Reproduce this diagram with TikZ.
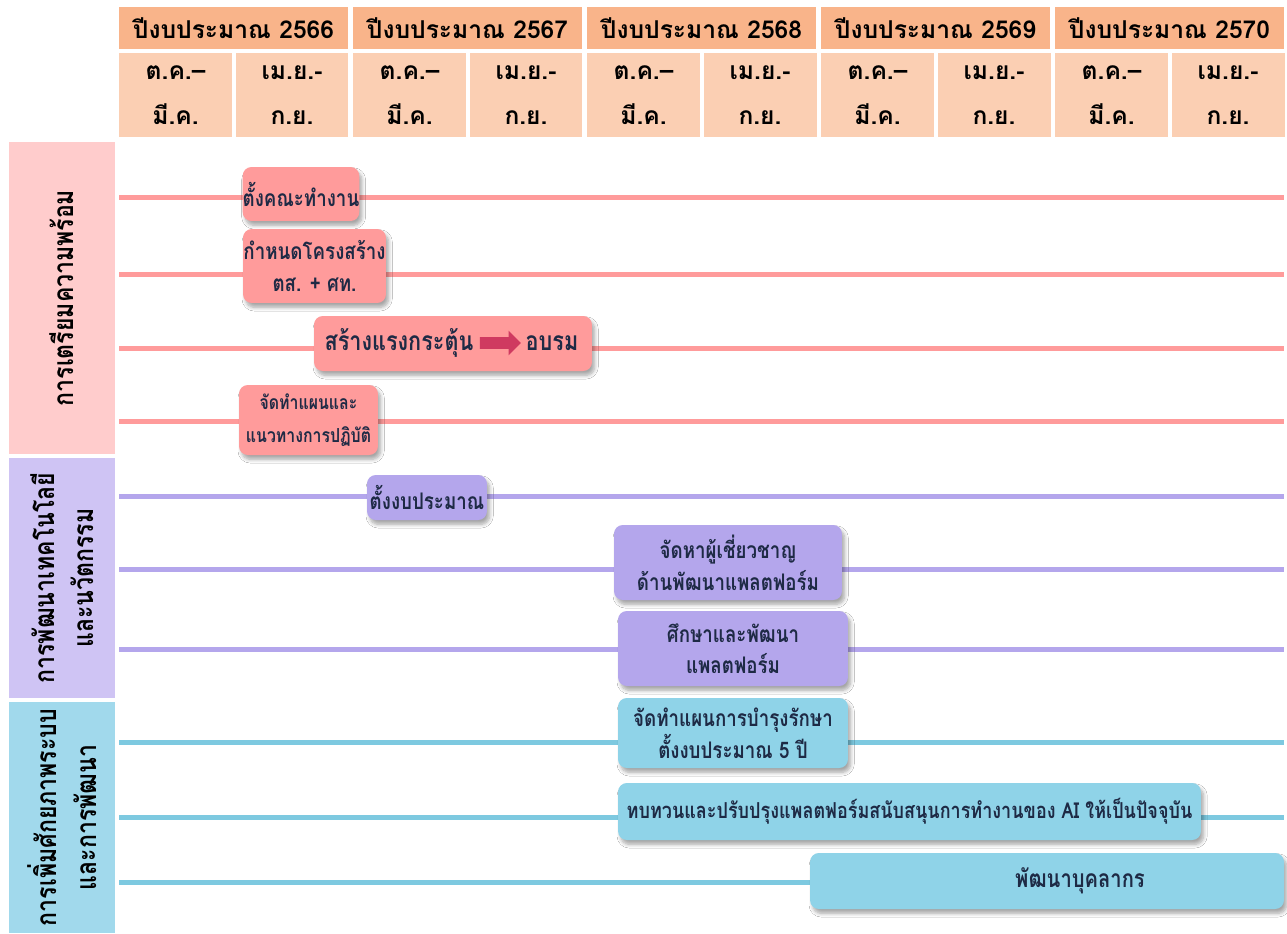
\documentclass[tikz,border=0pt]{standalone}
\usepackage{fontspec}
\setmainfont[Script=Thai]{Loma}
\newfontfamily\narrowthai[Script=Thai, FakeStretch=0.82]{Loma}
\usepackage{xcolor}
\usepackage{tikz}
\usetikzlibrary{shadows,shadows.blur,shapes.arrows}

\definecolor{yearhead}{HTML}{F9B48A}
\definecolor{halfhead}{HTML}{FBCFB3}
\definecolor{prepband}{HTML}{FFCCCC}
\definecolor{prepbox}{HTML}{FF9B9B}
\definecolor{techband}{HTML}{CFC4F4}
\definecolor{techbox}{HTML}{B4A6EC}
\definecolor{devband}{HTML}{A1D9EC}
\definecolor{devbox}{HTML}{8FD3E8}
\definecolor{devline}{HTML}{7DC9E0}
\definecolor{boxtext}{HTML}{1E2A45}
\definecolor{arrowred}{HTML}{CF3A60}

\begin{document}
\begin{tikzpicture}[x=0.02cm,y=-0.02cm,
    yearcell/.style={fill=yearhead, minimum width=4.58cm, minimum height=0.84cm,
      inner sep=0pt, font=\bfseries\fontsize{14}{16}\selectfont},
    halfcell/.style={fill=halfhead, minimum width=2.26cm, minimum height=1.68cm,
      inner sep=0pt, align=center, font=\bfseries\fontsize{14}{25.5}\selectfont},
    band/.style={fill=#1, rotate=90, minimum height=2.12cm, inner sep=0pt,
      align=center, font=\narrowthai\bfseries\fontsize{16}{22.5}\selectfont},
    rail/.style={line width=0.1cm, draw=#1},
    task/.style={fill=#1, rounded corners=5pt, inner xsep=0pt, inner ysep=2pt,
      align=center, text=boxtext, font=\narrowthai\bfseries\fontsize{13}{18}\selectfont,
      blur shadow={shadow xshift=1.5pt, shadow yshift=-2.5pt, shadow blur steps=6,
        shadow opacity=35}}]
  \fill[white] (0,0) rectangle (1287,933);
  \useasboundingbox (0,0) rectangle (1287,933);

  % header
  \foreach \yr [count=\i from 0] in {2566,2567,2568,2569,2570} {
    \node[yearcell] (y\yr) at (233.5+234*\i,28) {ปีงบประมาณ \yr};
    \node[halfcell] (h\yr a) at (175.5+234*\i,95) {ต.ค.–\\มี.ค.};
    \node[halfcell] (h\yr b) at (292+234*\i,95) {เม.ย.-\\ก.ย.};
  }

  % bands
  \node[band=prepband, minimum width=6.24cm] (prep) at (62,298) {การเตรียมความพร้อม};
  \node[band=techband, minimum width=4.80cm] (tech) at (62,578)
    {การพัฒนาเทคโนโลยี\\และนวัตกรรม};
  \node[band=devband, minimum width=4.62cm] (dev) at (62,817.5)
    {การเพิ่มศักยภาพระบบ\\และการพัฒนา};

  % rails
  \foreach \nm/\yy/\cl in {p1/197/prepbox, p2/274/prepbox, p3/348/prepbox, p4/421/prepbox,
      t1/496/techbox, t2/569/techbox, t3/649/techbox,
      d1/742/devline, d2/817/devline, d3/882/devline} {
    \coordinate (\nm s) at (119,\yy);
    \coordinate (\nm e) at (1284,\yy);
    \draw[rail=\cl] (\nm s) -- (\nm e);
  }

  % tasks
  \node[task=prepbox, minimum width=2.32cm, minimum height=1.08cm] (b1) at (301,194)
    {ตั้งคณะทำงาน};
  \node[task=prepbox, minimum width=2.86cm, minimum height=1.48cm] (b2) at (314.5,266)
    {กำหนดโครงสร้าง\\ตส. + ศท.};
  \node[task=prepbox, minimum width=5.56cm, minimum height=1.1cm] (b3) at (453,343.5) {};
  \node[text=boxtext, font=\narrowthai\bfseries\fontsize{15}{18}\selectfont] (b3a)
    at (399,343) {สร้างแรงกระตุ้น};
  \node[single arrow, fill=arrowred, inner xsep=0pt, inner ysep=0.11cm,
    minimum height=0.82cm, single arrow head extend=0.13cm] (b3r) at (497.5,343) {};
  \node[text=boxtext, font=\narrowthai\bfseries\fontsize{15}{18}\selectfont] (b3b)
    at (552,343) {อบรม};
  \node[task=prepbox, minimum width=2.78cm, minimum height=1.4cm,
    font=\narrowthai\bfseries\fontsize{11}{19}\selectfont] (b4) at (308.5,420)
    {จัดทำแผนและ\\แนวทางการปฏิบัติ};

  \node[task=techbox, minimum width=2.4cm, minimum height=0.9cm] (b5) at (427,497.5)
    {ตั้งงบประมาณ};
  \node[task=techbox, minimum width=4.56cm, minimum height=1.5cm] (b6) at (728,562.5)
    {จัดหาผู้เชี่ยวชาญ\\ด้านพัฒนาแพลตฟอร์ม};
  \node[task=techbox, minimum width=4.6cm, minimum height=1.5cm] (b7) at (733,648.5)
    {ศึกษาและพัฒนา\\แพลตฟอร์ม};

  \node[task=devbox, minimum width=4.6cm, minimum height=1.4cm] (b8) at (733,733)
    {จัดทำแผนการบำรุงรักษา\\ตั้งงบประมาณ 5 ปี};
  \node[task=devbox, minimum width=11.66cm, minimum height=1.14cm,
    font=\narrowthai\bfseries\fontsize{12.5}{18}\selectfont] (b9) at (909.5,811.5)
    {ทบทวนและปรับปรุงแพลตฟอร์มสนับสนุนการทำงานของ AI ให้เป็นปัจจุบัน};
  \node[task=devbox, minimum width=9.48cm, minimum height=1.12cm] (b10) at (1047,881) {};
  \node[text=boxtext, font=\narrowthai\bfseries\fontsize{14}{18}\selectfont] (b10t)
    at (1080,881) {พัฒนาบุคลากร};
\end{tikzpicture}
\end{document}
